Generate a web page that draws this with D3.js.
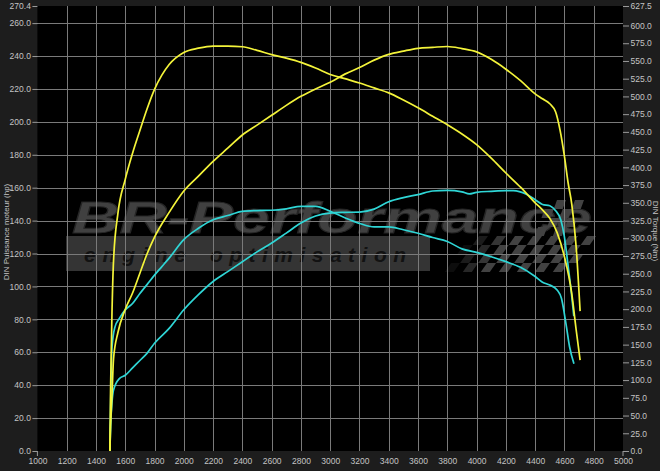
<!DOCTYPE html>
<html><head><meta charset="utf-8">
<script src="https://cdn.jsdelivr.net/npm/d3@7"></script>
<style>
html,body{margin:0;padding:0;background:#1c1c1c;}
svg{display:block;}
text{font-family:"Liberation Sans",Arial,sans-serif;}
</style></head>
<body>
<svg id="chart" width="660" height="471"></svg>
<script>
// ---- data ----
const rpmTicks = [1000,1200,1400,1600,1800,2000,2200,2400,2600,2800,3000,3200,3400,3600,3800,4000,4200,4400,4600,4800,5000];
const hpTicks = [0,20,40,60,80,100,120,140,160,180,200,220,240,260,270.4];
const nmTicks = [0,25,50,75,100,125,150,175,200,225,250,275,300,325,350,375,400,425,450,475,500,525,550,575,600,627.5];

// tuned (yellow) torque, Nm
const tunedTorque = [[1495,0],[1500,90],[1510,200],[1520,268],[1550,335],[1600,383],[1650,420],[1700,452],[1750,483],[1800,510],[1850,530],[1900,545],[2000,562],[2100,568],[2200,571],[2300,571],[2400,570],[2500,565],[2600,559],[2700,554],[2800,548],[2900,540],[3000,531],[3100,525],[3200,519],[3300,512],[3400,505],[3500,495],[3600,484],[3700,472],[3800,460],[3900,447],[4000,432],[4100,413],[4200,392],[4300,372],[4400,350],[4450,340],[4500,328],[4550,308],[4600,274],[4650,222],[4680,171],[4707,128]];
// tuned (yellow) power, hp
const tunedPower = [[1495,0],[1500,15],[1510,35],[1520,56],[1550,72],[1600,86],[1650,96],[1700,108],[1750,120],[1800,130],[1900,145],[2000,158],[2100,167],[2200,176],[2300,184],[2400,192],[2500,198],[2600,204],[2700,210],[2800,215.5],[2900,220],[3000,224],[3100,229],[3200,233],[3300,237.5],[3400,241],[3500,243],[3600,244.7],[3700,245.3],[3800,245.8],[3900,244.5],[4000,242.5],[4100,238],[4200,232],[4300,225],[4400,217],[4450,214],[4500,211],[4540,206],[4570,195],[4600,179],[4625,163],[4650,150],[4680,124],[4707,85]];
// stock (cyan) torque, Nm
const stockTorque = [[1495,0],[1500,60],[1505,120],[1510,147],[1530,175],[1560,187],[1600,199],[1650,208],[1700,222],[1750,235],[1800,248],[1850,260],[1900,272],[2000,298],[2100,314],[2200,326],[2300,332],[2400,338],[2500,339],[2600,339.5],[2700,341.5],[2800,345],[2900,345],[3000,338],[3100,329],[3200,321],[3300,316],[3400,316],[3500,312],[3600,307],[3700,301],[3800,295.5],[3900,285],[4000,280],[4100,274],[4200,267],[4300,259],[4400,246],[4450,238],[4500,234],[4550,227],[4580,215],[4610,180],[4635,147],[4665,123]];
// stock (cyan) power, hp
const stockPower = [[1495,0],[1500,15],[1510,30],[1520,37],[1560,44],[1600,46],[1650,50.5],[1700,55],[1750,59.5],[1800,65.5],[1900,74.5],[2000,85.8],[2100,95],[2200,103],[2300,109],[2400,115],[2500,121],[2600,126.4],[2700,132.4],[2800,138.5],[2900,142.8],[3000,144.6],[3100,145],[3200,145.2],[3300,147],[3400,151.5],[3500,154],[3600,155.8],[3700,158],[3800,158.4],[3900,157.5],[3950,156.2],[4000,157.2],[4100,157.8],[4200,158.2],[4250,158.2],[4340,156],[4400,152.7],[4450,149.8],[4500,149],[4540,146],[4575,140.5],[4600,130],[4623,114],[4645,98],[4664,82]];

const leftTitle = "DIN Puissance moteur (hp)";
const rightTitle = "DIN Torque (Nm)";

// ---- layout ----
const svg = d3.select("#chart");
const W = 660, H = 471;
const x = d3.scaleLinear().domain([1000,5000]).range([37.4,623]);
const yL = d3.scaleLinear().domain([0,270.4]).range([451,6]);
const yR = d3.scaleLinear().domain([0,627.5]).range([451,6]);
const textCol = "#c4c4c4", gridCol = "#7a7a7a";

svg.append("rect").attr("width",W).attr("height",H).attr("fill","#1d1d1d");
svg.append("rect").attr("x",x(1000)).attr("y",yL(270.4)).attr("width",x(5000)-x(1000)).attr("height",yL(0)-yL(270.4)).attr("fill","#000");

// ---- watermark ----
const wm = svg.append("g").attr("opacity",0.9);
wm.append("rect").attr("x",66).attr("y",236).attr("width",364).attr("height",35).attr("fill","#3a3a3a");
wm.append("text").attr("x",72).attr("y",233).attr("font-size",44).attr("font-weight","bold").attr("font-style","italic")
  .attr("font-family","DejaVu Sans").attr("textLength",520).attr("lengthAdjust","spacingAndGlyphs")
  .attr("fill","#474747").attr("stroke","#2a2a2a").attr("stroke-width",1).text("BR-Performance");
wm.append("text").attr("x",84).attr("y",262).attr("font-size",21).attr("font-weight","bold").attr("font-style","italic")
  .attr("font-family","DejaVu Sans").attr("textLength",102).attr("lengthAdjust","spacing").attr("fill","#141414").text("engine");
wm.append("text").attr("x",210).attr("y",262).attr("font-size",21).attr("font-weight","bold").attr("font-style","italic")
  .attr("font-family","DejaVu Sans").attr("textLength",196).attr("lengthAdjust","spacing").attr("fill","#141414").text("optimisation");
// checkered flag
const flag = wm.append("g").attr("transform","translate(470,236) skewX(-35)");
const cs = 9;
for (let r=0;r<4;r++){
  for (let c=0;c<14;c++){
    if ((r+c)%2===0) continue;
    const fade = Math.min(1,(c+1)/5);
    flag.append("rect").attr("x",c*cs).attr("y",r*cs).attr("width",cs).attr("height",cs)
      .attr("fill","#4a4a4a").attr("opacity",fade);
  }
}
const flag2 = wm.append("g").attr("transform","translate(548,200) skewX(-20)");
for (let r=0;r<4;r++){
  for (let c=0;c<4;c++){
    if ((r+c)%2===0) continue;
    flag2.append("rect").attr("x",c*cs).attr("y",r*cs).attr("width",cs).attr("height",cs).attr("fill","#4a4a4a");
  }
}

// ---- grid ----
const grid = svg.append("g").attr("stroke",gridCol).attr("stroke-width",1).attr("shape-rendering","crispEdges");
rpmTicks.filter(v=>v>1000 && v<5000).forEach(v=>{
  grid.append("line").attr("x1",Math.round(x(v))+0.5).attr("x2",Math.round(x(v))+0.5).attr("y1",yL(270.4)).attr("y2",yL(0));
});
hpTicks.filter(v=>v>0 && v<270).forEach(v=>{
  grid.append("line").attr("y1",Math.round(yL(v))+0.5).attr("y2",Math.round(yL(v))+0.5).attr("x1",x(1000)).attr("x2",x(5000));
});

// ---- axes ----
function styleAxis(g){
  g.select(".domain").remove();
  g.selectAll("line").attr("stroke","#9a9a9a");
  g.selectAll("text").attr("fill",textCol).attr("font-size",8.5).attr("font-family","Liberation Sans, Arial, sans-serif");
}
svg.append("g").attr("transform",`translate(${x(1000)},0)`)
  .call(d3.axisLeft(yL).tickValues(hpTicks).tickFormat(d3.format(".1f")).tickSize(5).tickPadding(1.5))
  .call(styleAxis);
svg.append("g").attr("transform",`translate(${x(5000)},0)`)
  .call(d3.axisRight(yR).tickValues(nmTicks).tickFormat(d3.format(".1f")).tickSize(6).tickPadding(1.5))
  .call(styleAxis);
svg.append("g").attr("transform",`translate(0,${yL(0)})`)
  .call(d3.axisBottom(x).tickValues(rpmTicks).tickFormat(d3.format("d")).tickSize(0).tickPadding(7))
  .call(styleAxis);
[1000,5000].forEach(v=>{
  svg.append("line").attr("x1",x(v)).attr("x2",x(v)).attr("y1",yL(0)).attr("y2",yL(0)+5).attr("stroke","#9a9a9a");
});

svg.append("text").attr("transform","translate(9,232) rotate(-90)").attr("text-anchor","middle")
  .attr("fill",textCol).attr("font-size",8).text(leftTitle);
svg.append("text").attr("transform","translate(653,231) rotate(90)").attr("text-anchor","middle")
  .attr("fill",textCol).attr("font-size",8).text(rightTitle);

// ---- curves ----
const lineL = d3.line().x(d=>x(d[0])).y(d=>yL(d[1])).curve(d3.curveMonotoneX);
const lineR = d3.line().x(d=>x(d[0])).y(d=>yR(d[1])).curve(d3.curveMonotoneX);
const cyan = "#2fd6d6", yellow = "#f4f43a";
svg.append("path").datum(stockTorque).attr("d",lineR).attr("fill","none").attr("stroke",cyan).attr("stroke-width",1.7);
svg.append("path").datum(stockPower).attr("d",lineL).attr("fill","none").attr("stroke",cyan).attr("stroke-width",1.7);
svg.append("path").datum(tunedTorque).attr("d",lineR).attr("fill","none").attr("stroke",yellow).attr("stroke-width",1.7);
svg.append("path").datum(tunedPower).attr("d",lineL).attr("fill","none").attr("stroke",yellow).attr("stroke-width",1.7);
</script>
</body></html>
